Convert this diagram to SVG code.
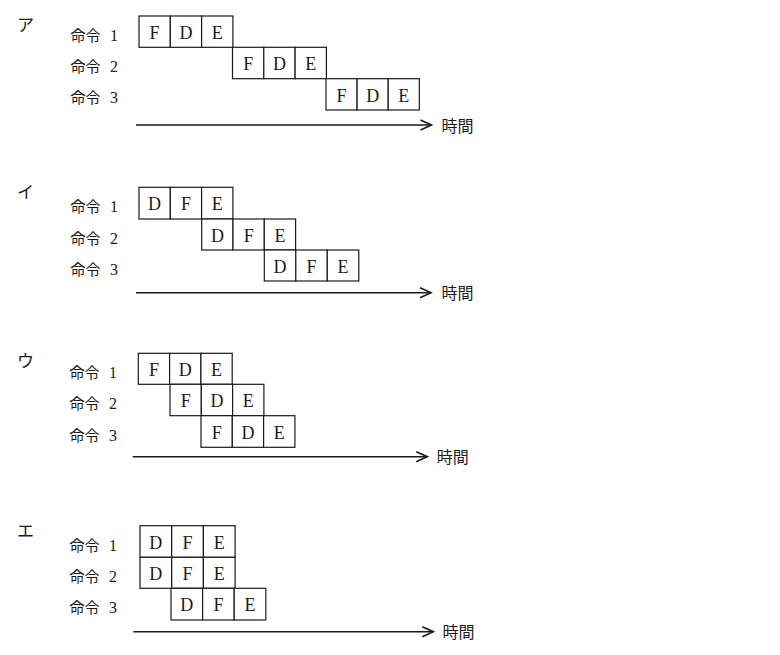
<svg xmlns="http://www.w3.org/2000/svg" width="780" height="655" viewBox="0 0 780 655">
<style>
.c{fill:#fff;stroke:#1a1a1a;stroke-width:1.2}
.l{font-family:"Liberation Serif","Noto Sans CJK JP",serif;font-size:18px;fill:#1a1a1a;text-anchor:middle}
.lb{font-family:"Noto Sans CJK JP",sans-serif;font-size:15px;fill:#1a1a1a}
.n{font-family:"Liberation Serif",serif;font-size:16px}
.k{font-family:"Noto Sans CJK JP",sans-serif;font-size:17px;fill:#1a1a1a}
.t{font-family:"Noto Sans CJK JP",sans-serif;font-size:16px;fill:#1a1a1a}
.ax{stroke:#1a1a1a;stroke-width:1.6;fill:none}
</style>
<defs>
<marker id="ah" markerUnits="userSpaceOnUse" markerWidth="14" markerHeight="14" refX="12" refY="6" orient="auto" viewBox="0 0 14 12">
<polyline points="1,1 12,6 1,11" fill="none" stroke="#1a1a1a" stroke-width="1.6"/>
</marker>
</defs>
<rect width="780" height="655" fill="#fff"/>

<!-- ア -->
<g id="sec-a">
<text class="k" x="17" y="31">ア</text>
<text class="lb" x="70.5" y="40.5">命令<tspan class="n" x="110">1</tspan></text>
<text class="lb" x="70.5" y="71.8">命令<tspan class="n" x="110">2</tspan></text>
<text class="lb" x="70.5" y="103.2">命令<tspan class="n" x="110">3</tspan></text>
</g>
<g id="a-row1">
<rect class="c" x="139" y="16" width="31.3" height="31.3"/><rect class="c" x="170.3" y="16" width="31.3" height="31.3"/><rect class="c" x="201.6" y="16" width="31.3" height="31.3"/>
<text class="l" x="154.6" y="38.8">F</text><text class="l" x="186" y="38.8">D</text><text class="l" x="217.3" y="38.8">E</text>
</g>
<g id="a-row2">
<rect class="c" x="232.5" y="47.3" width="31.3" height="31.4"/><rect class="c" x="263.8" y="47.3" width="31.3" height="31.4"/><rect class="c" x="295.1" y="47.3" width="31.3" height="31.4"/>
<text class="l" x="248.2" y="70.2">F</text><text class="l" x="279.5" y="70.2">D</text><text class="l" x="310.8" y="70.2">E</text>
</g>
<g id="a-row3">
<rect class="c" x="326" y="78.7" width="31.1" height="31.3"/><rect class="c" x="357.1" y="78.7" width="31.1" height="31.3"/><rect class="c" x="388.2" y="78.7" width="31.1" height="31.3"/>
<text class="l" x="341.6" y="101.6">F</text><text class="l" x="372.7" y="101.6">D</text><text class="l" x="403.8" y="101.6">E</text>
</g>

<!-- イ -->
<g id="sec-i">
<text class="k" x="17" y="198">イ</text>
<text class="lb" x="70.5" y="212">命令<tspan class="n" x="110">1</tspan></text>
<text class="lb" x="70.5" y="243.5">命令<tspan class="n" x="110">2</tspan></text>
<text class="lb" x="70.5" y="274.5">命令<tspan class="n" x="110">3</tspan></text>
</g>
<g id="i-row1">
<rect class="c" x="139" y="187.3" width="31.3" height="31.7"/><rect class="c" x="170.3" y="187.3" width="31.3" height="31.7"/><rect class="c" x="201.6" y="187.3" width="31.3" height="31.7"/>
<text class="l" x="154.6" y="210.4">D</text><text class="l" x="186" y="210.4">F</text><text class="l" x="217.3" y="210.4">E</text>
</g>
<g id="i-row2">
<rect class="c" x="201.7" y="219" width="31.3" height="31"/><rect class="c" x="233" y="219" width="31.3" height="31"/><rect class="c" x="264.3" y="219" width="31.3" height="31"/>
<text class="l" x="217.4" y="241.8">D</text><text class="l" x="248.7" y="241.8">F</text><text class="l" x="280" y="241.8">E</text>
</g>
<g id="i-row3">
<rect class="c" x="264.3" y="250" width="31.5" height="31"/><rect class="c" x="295.8" y="250" width="31.5" height="31"/><rect class="c" x="327.3" y="250" width="31.5" height="31"/>
<text class="l" x="280" y="272.8">D</text><text class="l" x="311.5" y="272.8">F</text><text class="l" x="343" y="272.8">E</text>
</g>

<!-- ウ -->
<g id="sec-u">
<text class="k" x="17" y="367">ウ</text>
<text class="lb" x="69.5" y="378">命令<tspan class="n" x="109">1</tspan></text>
<text class="lb" x="69.5" y="409">命令<tspan class="n" x="109">2</tspan></text>
<text class="lb" x="69.5" y="440.5">命令<tspan class="n" x="109">3</tspan></text>
</g>
<g id="u-row1">
<rect class="c" x="138.3" y="353.3" width="31.3" height="31"/><rect class="c" x="169.6" y="353.3" width="31.3" height="31"/><rect class="c" x="200.9" y="353.3" width="31.3" height="31"/>
<text class="l" x="154" y="376.1">F</text><text class="l" x="185.3" y="376.1">D</text><text class="l" x="216.6" y="376.1">E</text>
</g>
<g id="u-row2">
<rect class="c" x="170" y="384.3" width="31.3" height="31.4"/><rect class="c" x="201.3" y="384.3" width="31.3" height="31.4"/><rect class="c" x="232.6" y="384.3" width="31.3" height="31.4"/>
<text class="l" x="185.7" y="407.3">F</text><text class="l" x="217" y="407.3">D</text><text class="l" x="248.3" y="407.3">E</text>
</g>
<g id="u-row3">
<rect class="c" x="201" y="415.7" width="31.3" height="31.6"/><rect class="c" x="232.3" y="415.7" width="31.3" height="31.6"/><rect class="c" x="263.6" y="415.7" width="31.3" height="31.6"/>
<text class="l" x="216.7" y="438.8">F</text><text class="l" x="248" y="438.8">D</text><text class="l" x="279.3" y="438.8">E</text>
</g>

<!-- エ -->
<g id="sec-e">
<text class="k" x="17" y="537">エ</text>
<text class="lb" x="69.5" y="550.5">命令<tspan class="n" x="109">1</tspan></text>
<text class="lb" x="69.5" y="582">命令<tspan class="n" x="109">2</tspan></text>
<text class="lb" x="69.5" y="613">命令<tspan class="n" x="109">3</tspan></text>
</g>
<g id="e-row1">
<rect class="c" x="140" y="525.7" width="31.7" height="31.6"/><rect class="c" x="171.7" y="525.7" width="31.7" height="31.6"/><rect class="c" x="203.4" y="525.7" width="31.7" height="31.6"/>
<text class="l" x="155.8" y="548.8">D</text><text class="l" x="187.5" y="548.8">F</text><text class="l" x="219.2" y="548.8">E</text>
</g>
<g id="e-row2">
<rect class="c" x="140" y="557.3" width="31.7" height="31"/><rect class="c" x="171.7" y="557.3" width="31.7" height="31"/><rect class="c" x="203.4" y="557.3" width="31.7" height="31"/>
<text class="l" x="155.8" y="580.1">D</text><text class="l" x="187.5" y="580.1">F</text><text class="l" x="219.2" y="580.1">E</text>
</g>
<g id="e-row3">
<rect class="c" x="171" y="588.3" width="31.6" height="31.7"/><rect class="c" x="202.6" y="588.3" width="31.6" height="31.7"/><rect class="c" x="234.2" y="588.3" width="31.6" height="31.7"/>
<text class="l" x="186.8" y="611.4">D</text><text class="l" x="218.4" y="611.4">F</text><text class="l" x="250" y="611.4">E</text>
</g>

<!-- time axes -->
<g id="connectors">
<line class="ax" x1="136" y1="125" x2="431.5" y2="125" marker-end="url(#ah)"/>
<line class="ax" x1="136" y1="292.7" x2="431" y2="292.7" marker-end="url(#ah)"/>
<line class="ax" x1="132.7" y1="456.7" x2="427.3" y2="456.7" marker-end="url(#ah)"/>
<line class="ax" x1="133.3" y1="631.7" x2="433.3" y2="631.7" marker-end="url(#ah)"/>
</g>
<g id="time-labels">
<text class="t" x="441.5" y="131.5">時間</text>
<text class="t" x="441.5" y="299">時間</text>
<text class="t" x="436.7" y="463">時間</text>
<text class="t" x="442.5" y="638">時間</text>
</g>
</svg>
